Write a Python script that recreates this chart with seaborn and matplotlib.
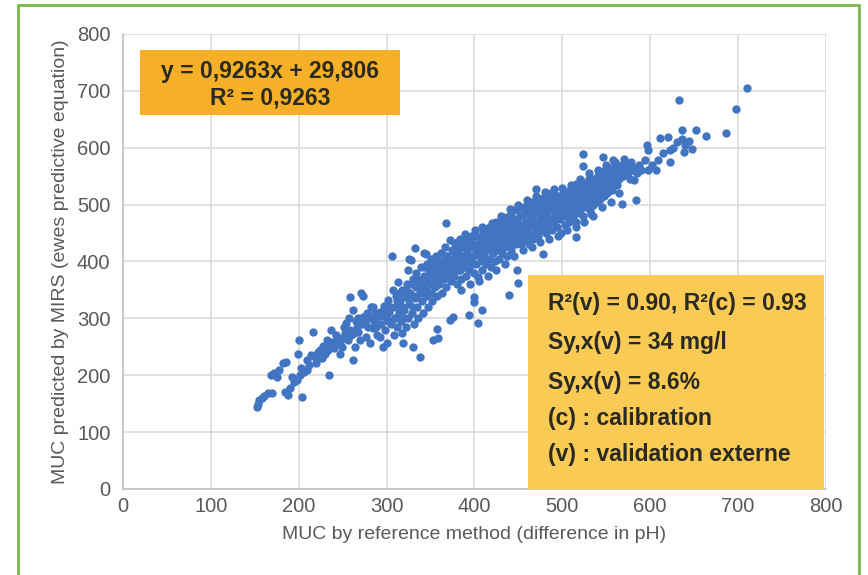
import matplotlib
matplotlib.use('Agg')
import matplotlib.pyplot as plt
from matplotlib.patches import Rectangle
import seaborn as sns
import pandas as pd

# points: (MUC reference, MUC predicted by MIRS)
low_pts = [
    (152, 145), (154, 150), (155, 157), (158, 160), (161, 163), (165, 168), (169, 168),
    (168, 200), (172, 204), (175, 197), (178, 209), (182, 221), (186, 224), (184, 171),
    (188, 165), (190, 178), (192, 197), (195, 188), (198, 191), (201, 200), (199, 238),
    (200, 262), (204, 162), (203, 212), (206, 205), (209, 227), (209, 209), (212, 218),
    (214, 235), (216, 276), (218, 232), (220, 222), (222, 240), (224, 244), (226, 230),
    (228, 252), (230, 238), (233, 245), (235, 200), (237, 279), (238, 258), (240, 248),
    (243, 256), (245, 265), (247, 238), (249, 250), (251, 268), (253, 275), (254, 291),
    (256, 262), (258, 338), (258, 280), (260, 270), (262, 227), (262, 315), (264, 250),
    (265, 295), (266, 285), (268, 276), (270, 262), (271, 344), (273, 303), (273, 339),
    (275, 290), (277, 268), (278, 310), (280, 300), (281, 256), (282, 320), (284, 283),
    (285, 320), (286, 295), (288, 285), (289, 270), (290, 305), (292, 268), (293, 312),
    (294, 290), (296, 250), (297, 322), (298, 280), (300, 256), (300, 300), (302, 332),
    (303, 312), (305, 290), (307, 350), (306, 409),
    (232, 262), (236, 250), (242, 270), (248, 262), (252, 285), (257, 300), (263, 275),
    (267, 300), (272, 290), (276, 305), (279, 285), (283, 300), (287, 310), (291, 290),
    (295, 305), (299, 315), (302, 295), (305, 320),
]

core_pts = [
    (308, 270), (309, 300), (310, 320), (311, 340), (312, 285), (313, 364), (314, 310),
    (315, 330), (316, 295), (317, 350), (318, 275), (319, 256), (320, 315), (321, 338),
    (322, 285), (323, 360), (324, 385), (324, 300), (326, 325), (326, 405), (327, 345),
    (328, 402), (329, 310), (330, 250), (330, 370), (331, 290), (332, 423), (332, 335),
    (333, 355), (334, 380), (335, 320), (336, 300), (337, 365), (338, 232), (338, 345),
    (339, 390), (340, 330), (341, 310), (342, 375), (343, 415), (343, 355), (345, 414),
    (345, 340), (346, 395), (347, 320), (348, 365), (349, 380), (350, 345), (351, 405),
    (352, 330), (353, 262), (353, 370), (354, 390), (355, 355), (356, 410), (357, 282),
    (357, 340), (358, 375), (359, 395), (359, 265), (360, 360), (361, 385), (362, 415),
    (363, 345), (364, 400), (365, 370), (366, 425), (367, 390), (368, 468), (368, 355),
    (369, 410), (370, 380), (371, 398), (372, 297), (372, 438), (373, 365), (374, 420),
    (375, 390), (376, 303), (376, 405), (377, 375), (378, 430), (379, 395), (380, 360),
    (381, 415), (382, 385), (383, 440), (384, 400), (385, 370), (386, 425), (387, 410),
    (388, 390), (389, 448), (390, 375), (391, 420), (392, 400), (393, 435), (394, 306),
    (394, 385), (395, 410), (396, 445), (397, 395), (398, 425), (399, 338), (399, 380),
    (400, 329), (400, 412), (401, 455), (402, 395), (403, 430), (404, 291), (404, 372),
    (405, 420), (406, 440), (407, 400), (408, 315), (408, 460), (409, 385), (410, 428),
    (411, 410), (412, 445), (413, 395), (414, 432), (415, 458), (416, 405), (417, 420),
    (418, 461), (419, 390), (420, 440), (421, 415), (422, 450), (423, 400), (424, 430),
    (425, 470), (426, 420), (427, 445), (428, 405), (429, 460), (430, 435), (431, 415),
    (432, 478), (433, 450), (434, 425), (435, 465), (436, 440), (437, 410), (438, 455),
    (439, 341), (439, 480), (440, 430), (441, 445), (442, 420), (443, 470), (444, 490),
    (445, 440), (446, 455), (447, 430), (448, 385), (448, 475), (449, 450), (450, 363),
    (450, 440), (451, 495), (452, 465), (453, 430), (454, 480), (455, 450), (456, 460),
    (457, 440), (458, 490), (459, 470), (460, 455), (461, 500), (462, 430), (463, 480),
    (464, 445), (465, 465), (466, 505), (467, 440), (468, 485), (469, 455), (470, 527),
    (470, 470), (471, 495), (472, 445), (473, 510), (474, 460), (475, 480), (476, 500),
    (477, 455), (478, 414), (478, 490), (479, 470), (480, 515), (481, 450), (482, 520),
    (483, 480), (484, 460), (485, 500), (486, 475), (487, 510), (488, 455), (489, 490),
    (490, 470), (491, 520), (492, 485), (493, 505), (494, 460), (495, 495), (496, 515),
    (497, 475), (498, 490), (499, 450), (500, 505), (501, 480), (502, 520), (503, 465),
    (504, 495), (505, 510), (506, 485), (507, 500), (508, 470), (509, 525), (510, 490),
    (511, 508), (512, 480), (513, 515), (514, 495), (515, 470), (516, 443), (516, 537),
    (516, 505), (517, 485), (518, 520), (519, 500), (520, 490),
]

# second pass over the dense part of the cloud
fill_pts = [
    (310, 300), (312, 330), (315, 345), (318, 320), (320, 300), (322, 350), (325, 335),
    (328, 360), (330, 320), (333, 340), (335, 370), (338, 360), (340, 350), (342, 390),
    (344, 370), (346, 350), (348, 385), (350, 400), (352, 360), (354, 375), (356, 385),
    (358, 360), (360, 400), (362, 370), (364, 380), (366, 395), (368, 410), (370, 395),
    (372, 375), (374, 405), (376, 385), (378, 415), (380, 400), (382, 425), (384, 385),
    (386, 410), (388, 430), (390, 400), (392, 415), (394, 435), (396, 400), (398, 410),
    (400, 430), (402, 415), (404, 445), (406, 410), (408, 430), (410, 445), (412, 420),
    (414, 450), (416, 435), (418, 440), (420, 425), (422, 465), (424, 445), (426, 455),
    (428, 430), (430, 470), (432, 445), (434, 460), (436, 475), (438, 440), (440, 465),
    (442, 480), (444, 455), (446, 470), (448, 490), (450, 460), (452, 480), (454, 465),
    (456, 495), (458, 450), (460, 485), (462, 470), (464, 495), (466, 480), (468, 470),
    (470, 500), (472, 485), (474, 510), (476, 470), (478, 505), (480, 495), (482, 470),
    (484, 505), (486, 490), (488, 520), (490, 500), (492, 510), (494, 480), (496, 500),
    (498, 515), (500, 490), (502, 510), (504, 480), (506, 520), (508, 505), (510, 530),
    (512, 515), (514, 525), (516, 490), (518, 510), (520, 525), (522, 540), (524, 515),
    (526, 535), (528, 520), (530, 545), (532, 525), (534, 540), (536, 530), (538, 545),
    (540, 535), (542, 555), (544, 525), (546, 540), (548, 560), (550, 535), (552, 550),
    (554, 565), (556, 545), (558, 560), (560, 550), (562, 570), (564, 560), (566, 550),
    (568, 570), (570, 555), (572, 560), (575, 570), (578, 575), (580, 565),
]

# lower and upper rims of the dense band
rim_pts = [
    (385, 350), (395, 360), (405, 365), (415, 375), (425, 385), (435, 395), (445, 410),
    (455, 420), (465, 425), (475, 435), (485, 440), (495, 445), (505, 455), (515, 460),
    (525, 470), (535, 480), (545, 495), (555, 505), (565, 520),
    (380, 435), (390, 440), (400, 445), (410, 455), (420, 468), (430, 480), (440, 492),
    (450, 500), (460, 508), (470, 515), (480, 522), (490, 528), (500, 530), (510, 535),
    (520, 545), (530, 555), (540, 560), (550, 570), (560, 575), (570, 580),
]

high_pts = [
    (521, 530), (522, 510), (523, 480), (524, 589), (524, 568), (524, 500), (525, 525),
    (526, 515), (527, 495), (528, 535), (529, 505), (530, 520), (531, 490), (532, 540),
    (533, 484), (533, 510), (534, 525), (535, 500), (536, 545), (537, 515), (538, 530),
    (539, 505), (540, 550), (541, 520), (542, 535), (543, 510), (544, 545), (545, 525),
    (546, 555), (546, 583), (547, 515), (548, 540), (549, 530), (550, 550), (551, 520),
    (552, 560), (553, 540), (554, 530), (555, 548), (556, 525), (557, 555), (558, 578),
    (558, 540), (560, 560), (561, 545), (562, 535), (563, 555), (565, 545), (566, 560),
    (568, 501), (569, 550), (570, 565), (573, 572), (575, 555), (577, 545), (579, 560),
    (581, 544), (584, 508), (585, 555), (587, 570), (590, 560), (594, 578), (596, 605),
    (597, 561), (598, 596), (602, 570), (607, 561), (609, 578), (611, 617), (615, 590),
    (620, 619), (622, 596), (622, 575), (626, 600), (630, 610), (633, 684), (636, 631),
    (636, 616), (638, 592), (640, 605), (644, 612), (647, 598), (652, 631), (664, 620),
    (686, 626), (698, 668), (710, 705),
]

x_ticks = [0, 100, 200, 300, 400, 500, 600, 700, 800]
y_ticks = [0, 100, 200, 300, 400, 500, 600, 700, 800]
fit_text = ['y = 0,9263x + 29,806', 'R² = 0,9263']
stats_text = ['R²(v) = 0.90, R²(c) = 0.93', 'Sy,x(v) = 34 mg/l', 'Sy,x(v) = 8.6%',
              '(c) : calibration', '(v) : validation externe']

df = pd.DataFrame(low_pts + core_pts + fill_pts + rim_pts + high_pts,
                  columns=['ref', 'mirs'])

sns.set_style('white')
plt.rcParams['font.family'] = ['Liberation Sans', 'DejaVu Sans']

fig = plt.figure(figsize=(8.68, 5.75), dpi=100)
ax = fig.add_axes([0.1417, 0.1496, 0.8099, 0.7913])

sns.scatterplot(data=df, x='ref', y='mirs', ax=ax, s=36, color='#4174c1',
                linewidth=0, zorder=3, legend=False)

ax.set_xlim(0, 800)
ax.set_ylim(0, 800)
ax.set_xticks(x_ticks)
ax.set_yticks(y_ticks)
ax.grid(True, color='#d9d9d9', linewidth=1.1, zorder=0)
ax.set_axisbelow(True)
for side in ['top', 'right']:
    ax.spines[side].set_visible(False)
for side in ['left', 'bottom']:
    ax.spines[side].set_color('#bfbfbf')
    ax.spines[side].set_linewidth(1.1)
ax.tick_params(axis='both', length=0, labelsize=14.5, labelcolor='#595959')
ax.tick_params(axis='x', pad=6)
ax.tick_params(axis='y', pad=9)
ax.set_xlabel('MUC by reference method (difference in pH)', fontsize=14,
              color='#595959', labelpad=7)
ax.set_ylabel('MUC predicted by MIRS (ewes predictive equation)', fontsize=14,
              color='#595959', labelpad=6)

# regression equation box
ax.add_patch(Rectangle((0.024, 0.822), 0.37, 0.143, transform=ax.transAxes,
                       facecolor='#f5b027', edgecolor='none', zorder=4))
ax.text(0.209, 0.9165, fit_text[0], transform=ax.transAxes, ha='center', va='center',
        fontsize=16.5, fontweight='bold', color='#2a2a22', zorder=5)
ax.text(0.209, 0.859, fit_text[1], transform=ax.transAxes, ha='center', va='center',
        fontsize=16.5, fontweight='bold', color='#2a2a22', zorder=5)

# statistics box
ax.add_patch(Rectangle((0.576, 0.0), 0.421, 0.47, transform=ax.transAxes,
                       facecolor='#f9cb55', edgecolor='none', zorder=4))
for yy, line in zip([0.4066, 0.3209, 0.233, 0.156, 0.0747], stats_text):
    ax.text(0.605, yy, line, transform=ax.transAxes, ha='left', va='center',
            fontsize=16.5, fontweight='bold', color='#2a2a22', zorder=5)

# green frame around the figure
fig.patches.append(Rectangle((18 / 868, -0.05), (859 - 18) / 868, 1.05 - 5 / 575,
                             transform=fig.transFigure, fill=False,
                             edgecolor='#79b84c', linewidth=2))

fig.savefig('out.png', dpi=100)
